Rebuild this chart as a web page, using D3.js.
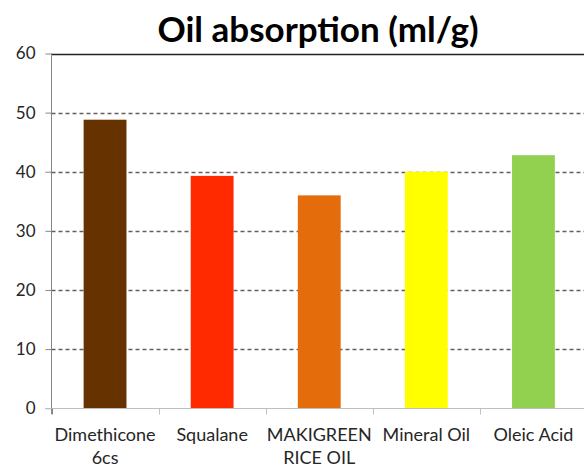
<!DOCTYPE html>
<html>
<head>
<meta charset="utf-8">
<script src="https://cdn.jsdelivr.net/npm/d3@7"></script>
<style>
  html, body { margin: 0; padding: 0; background: #fff; }
  svg { display: block; }
</style>
</head>
<body>
<script>
// values
let categories = ['Dimethicone 6cs', 'Squalane', 'MAKIGREEN RICE OIL', 'Mineral Oil', 'Oleic Acid']
let absorption = [48.8, 39.3, 36.0, 40.0, 42.8]
let barColors = ['#663300', '#ff2a00', '#e46c0a', '#ffff00', '#92d050']
let yTicks = [0, 10, 20, 30, 40, 50, 60]

let width = 584, height = 468
let margin = { top: 53.5, right: -3, bottom: 60, left: 51.5 }

let svg = d3.select('body').append('svg')
  .attr('width', width)
  .attr('height', height)

let x = d3.scaleBand()
  .domain(categories)
  .range([margin.left, width - margin.right])
  .paddingInner(0.6)
  .paddingOuter(0.3)

let y = d3.scaleLinear()
  .domain([0, 60])
  .range([height - margin.bottom + 0.5 - 0.3, margin.top])

// title
svg.append('text')
  .attr('x', 318)
  .attr('y', 42)
  .attr('text-anchor', 'middle')
  .style('font-family', '"Comic Sans MS", Lato, sans-serif')
  .style('font-weight', 'bold')
  .style('font-size', '35px')
  .attr('fill', '#000')
  .text('Oil absorption (ml/g)')

// dashed gridlines
svg.append('g')
  .selectAll('line')
  .data(yTicks.filter(d => d > 0 && d < 60))
  .enter().append('line')
  .attr('x1', margin.left)
  .attr('x2', width)
  .attr('y1', d => Math.round(y(d)) + 0.5)
  .attr('y2', d => Math.round(y(d)) + 0.5)
  .attr('stroke', '#606060')
  .attr('stroke-width', 1.3)
  .attr('stroke-dasharray', '4,3')

// solid top line
svg.append('line')
  .attr('x1', margin.left)
  .attr('x2', width)
  .attr('y1', Math.round(y(60)) + 0.5)
  .attr('y2', Math.round(y(60)) + 0.5)
  .attr('stroke', '#222')
  .attr('stroke-width', 1.3)

// bars
svg.append('g')
  .selectAll('rect')
  .data(categories)
  .enter().append('rect')
  .attr('x', d => x(d))
  .attr('width', x.bandwidth())
  .attr('y', (d, i) => y(absorption[i]))
  .attr('height', (d, i) => y(0) - y(absorption[i]))
  .attr('fill', (d, i) => barColors[i])

// y axis
let yAxis = svg.append('g')
  .attr('transform', `translate(${margin.left},0)`)
  .call(d3.axisLeft(y).tickValues(yTicks).tickSize(6).tickPadding(10))
yAxis.select('.domain').attr('d', `M0,${y(60)}V${y(0) + 6}`).attr('stroke', '#868686')
yAxis.selectAll('.tick line').attr('stroke', '#868686')
yAxis.selectAll('text')
  .style('font-family', 'Lato, sans-serif')
  .style('font-size', '17px')
  .attr('fill', '#262626')

// x axis: ticks at band boundaries
let step = x.step()
let x0 = margin.left
let xAxis = svg.append('g')
  .attr('transform', `translate(0,${Math.round(y(0)) + 0.5})`)
xAxis.append('line')
  .attr('x1', margin.left - 6)
  .attr('x2', width)
  .attr('stroke', '#bfbfbf')
xAxis.selectAll('.bt')
  .data(categories)
  .enter().append('line')
  .attr('class', 'bt')
  .attr('x1', (d, i) => Math.round(x0 + i * step) + 0.5)
  .attr('x2', (d, i) => Math.round(x0 + i * step) + 0.5)
  .attr('y2', 6)
  .attr('stroke', (d, i) => i === 0 ? '#868686' : '#bfbfbf')

// category labels, wrapped to the band width
let labels = xAxis.selectAll('.lab')
  .data(categories)
  .enter().append('text')
  .attr('class', 'lab')
  .attr('text-anchor', 'middle')
  .attr('transform', d => `translate(${x(d) + x.bandwidth() / 2},32)`)
  .style('font-family', 'Lato, sans-serif')
  .style('font-size', '18px')
  .attr('fill', '#262626')

labels.each(function (d) {
  let t = d3.select(this)
  let words = d.split(' ')
  let lines = [], cur = []
  words.forEach(w => {
    let test = cur.concat([w]).join(' ')
    t.text(test)
    if (cur.length && this.getComputedTextLength() > step - 2) {
      lines.push(cur.join(' '))
      cur = [w]
    } else {
      cur.push(w)
    }
  })
  lines.push(cur.join(' '))
  t.text(null)
  lines.forEach((l, i) => {
    t.append('tspan').attr('x', 0).attr('y', i * 23).text(l)
  })
})
</script>
</body>
</html>
